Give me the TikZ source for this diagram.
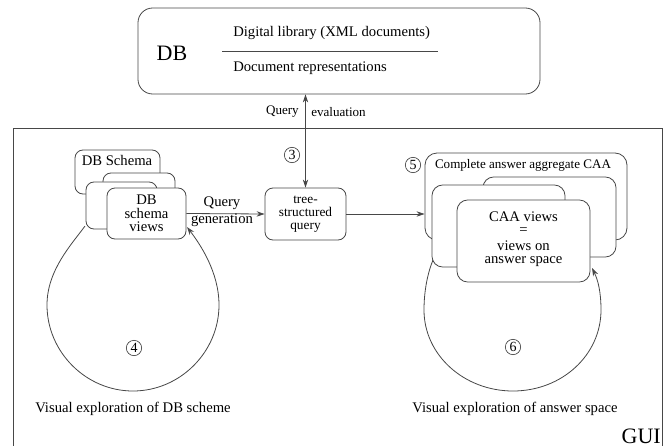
\documentclass[tikz,border=0pt]{standalone}
\usepackage{fontspec}
\setmainfont{Liberation Serif}
\usetikzlibrary{arrows.meta}
\begin{document}
\begin{tikzpicture}[x=0.75pt,y=-0.75pt,
  ln/.style={draw=black!72, line width=0.6pt},
  box/.style={ln, fill=white, rounded corners=6pt, inner sep=0pt, align=center},
  arr/.style={ln, -{Stealth[length=6pt,width=4pt]}},
  dblarr/.style={ln, {Stealth[length=6pt,width=4pt]}-{Stealth[length=6pt,width=4pt]}},
  num/.style={circle, draw=black!72, line width=0.5pt, inner sep=0pt, minimum size=11.5pt, font=\fontsize{10.5}{11}\selectfont},
  txt/.style={inner sep=0pt, font=\fontsize{11}{12}\selectfont},
  small/.style={inner sep=0pt, font=\fontsize{9.8}{11}\selectfont},
  big/.style={inner sep=0pt, font=\fontsize{16.5}{18}\selectfont}
]
\useasboundingbox (0,0) rectangle (668,446);

% GUI frame (open at the bottom)
\coordinate (gbl) at (13,446);
\coordinate (gtl) at (13,128);
\coordinate (gtr) at (662,128);
\coordinate (gbr) at (662,446);
\draw[ln] (gbl) -- (gtl) -- (gtr) -- (gbr);
\node[big, anchor=east] (gui) at (661,436) {GUI};

% DB box
\node[box, rounded corners=11pt, minimum width=301.5pt, minimum height=64.5pt] (db) at (339,51) {};
\node[big] (dbt) at (172,53) {DB};
\coordinate (sepl) at (222,51);
\coordinate (sepr) at (438,51);
\draw[ln] (sepl) -- (sepr);
\node[txt, anchor=west] (dl) at (233,33) {Digital library (XML documents)};
\node[txt, anchor=west] (dr) at (233,68) {Document representations};

% tree-structured query
\node[box, minimum width=60.75pt, minimum height=39pt, font=\fontsize{10}{9.6}\selectfont] (tree) at (305.5,214) {tree-\\structured\\query};
\draw[dblarr] (tree.north) -- (tree.north |- db.south);
\node[small, anchor=east] (qe1) at (299,112) {Query};
\node[small, anchor=west] (qe2) at (311,112) {evaluation};
\node[num] (n3) at (292,155) {3};

% left stack
\node[box, minimum width=63.75pt, minimum height=33pt] (l1) at (117.5,172) {};
\node[txt] (l1t) at (117,160) {DB Schema};
\node[box, minimum width=54pt, minimum height=31.5pt] (l2) at (139,194) {};
\node[box, minimum width=53.25pt, minimum height=35.25pt] (l3) at (121.5,205.5) {};
\node[box, minimum width=59.25pt, minimum height=38.25pt, font=\fontsize{11}{10}\selectfont] (l4) at (146.5,213.5) {DB\\schema\\views};

\draw[arr] (l4.east) -- (tree.west);
\node[txt] (qg1) at (222,203) {Query};
\node[txt] (qg2) at (222,220) {generation};

% right stack
\node[box, rounded corners=9pt, minimum width=151.5pt, minimum height=65.25pt] (r1) at (526,196.5) {};
\node[small] (r1t) at (523,165) {Complete answer aggregate CAA};
\node[box, rounded corners=8pt, minimum width=99.75pt, minimum height=60pt] (r2) at (549.5,217) {};
\node[box, rounded corners=8pt, minimum width=99.75pt, minimum height=61.5pt] (r3) at (498.5,226) {};
\node[box, rounded corners=8pt, minimum width=99.75pt, minimum height=61.5pt] (r4) at (523.5,241) {};
\node[txt, align=center, font=\fontsize{11}{8.5}\selectfont] (r4t) at (523.5,239) {CAA views\\[1.3pt]=\\[3.6pt]views on\\[1pt]answer space};
\node[num] (n5) at (413,165) {5};

\draw[arr] (tree.east) -- (tree.east -| r1.west);

% exploration loops
\coordinate (ls) at (85,226);
\coordinate (le) at (187,227);
\draw[arr] (ls) .. controls (72,244) and (47,270) .. (47,305)
  .. controls (47,352) and (86,391) .. (133,391)
  .. controls (180,391) and (219,352) .. (219,305)
  .. controls (219,272) and (200,244) .. (le);
\node[num] (n4) at (134,348) {4};
\node[txt] (v1) at (133,409) {Visual exploration of DB scheme};

\coordinate (rs) at (433,260);
\coordinate (re) at (592,268);
\draw[arr] (rs) .. controls (428,272) and (424,290) .. (424,310)
  .. controls (424,355) and (464,391) .. (513,391)
  .. controls (562,391) and (601,355) .. (601,310)
  .. controls (601,292) and (598,280) .. (re);
\node[num] (n6) at (513,347) {6};
\node[txt] (v2) at (515,409) {Visual exploration of answer space};
\end{tikzpicture}
\end{document}
